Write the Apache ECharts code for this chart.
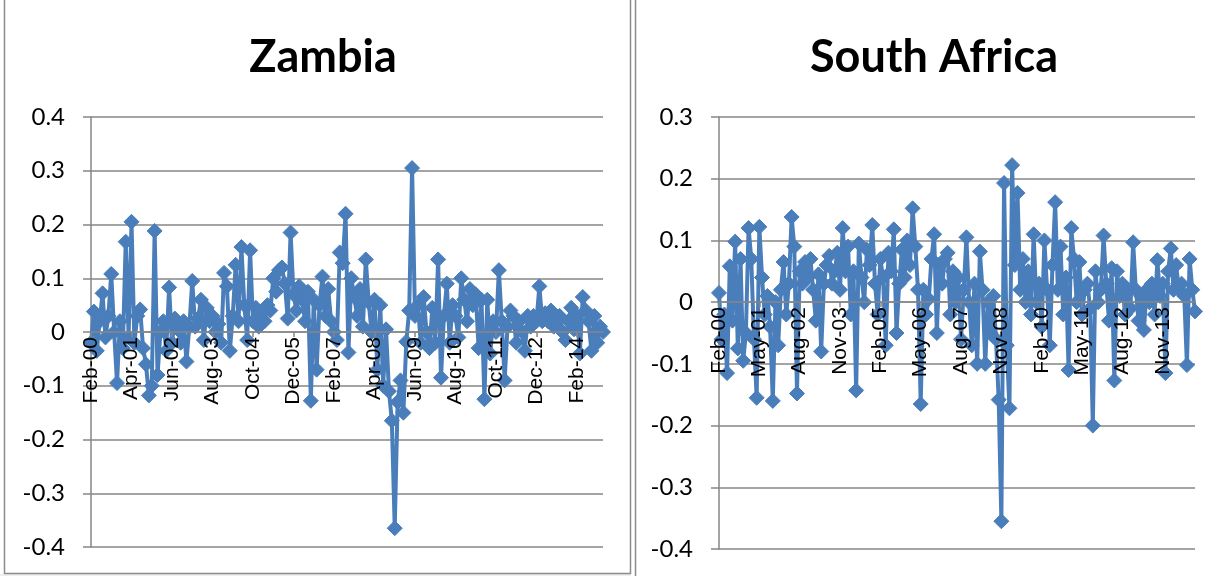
<!DOCTYPE html>
<html>
<head>
<meta charset="utf-8">
<title>Zambia / South Africa</title>
<script src="https://cdn.jsdelivr.net/npm/echarts@6/dist/echarts.min.js"></script>
<style>
  html, body { margin: 0; padding: 0; background: #ffffff; }
  #chart { width: 1218px; height: 576px; }
</style>
</head>
<body>
<div id="chart"></div>
<script>
// Monthly series, Feb-2000 .. Nov-2014 (178 observations each)
const MONTH_NAMES = ['Jan','Feb','Mar','Apr','May','Jun','Jul','Aug','Sep','Oct','Nov','Dec'];
const START_YEAR = 2000;
const START_MONTH = 1; // February
const N_MONTHS = 178;

const zambiaTitle = 'Zambia';
const southAfricaTitle = 'South Africa';

const zambiaValues = [
  -0.02, 0.038, -0.035, 0.02, 0.072, -0.01, 0.03, 0.108, 0.0, -0.095, 0.02, -0.03,
  0.168, -0.01, 0.205, -0.02, 0.03, 0.042, -0.03, -0.06, -0.118, -0.1, 0.188, -0.08,
  0.0, 0.02, -0.035, 0.083, -0.02, 0.025, 0.005, -0.02, 0.02, -0.055, 0.01, 0.095,
  0.01, 0.025, 0.06, -0.015, 0.045, 0.02, 0.03, 0.0, 0.015, -0.02, 0.11, 0.085,
  -0.035, 0.03, 0.125, 0.02, 0.158, 0.05, -0.015, 0.152, 0.02, 0.045, 0.01, 0.035,
  0.02, 0.05, 0.04, 0.1, 0.075, 0.115, 0.12, 0.09, 0.025, 0.185, 0.07, 0.04,
  0.085, 0.06, 0.02, 0.075, -0.128, 0.06, -0.07, 0.05, 0.103, 0.03, 0.08, 0.02,
  0.0, -0.015, 0.148, 0.128, 0.22, -0.038, 0.1, 0.065, 0.03, 0.08, 0.01, 0.135,
  0.055, 0.0, 0.06, -0.07, 0.05, -0.1, 0.005, -0.11, -0.165, -0.365, -0.13, -0.09,
  -0.15, -0.018, 0.04, 0.305, 0.03, 0.05, -0.02, 0.065, 0.0, -0.03, 0.045, -0.02,
  0.135, -0.085, 0.03, 0.09, -0.02, 0.05, 0.03, -0.01, 0.1, 0.06, 0.02, 0.08,
  0.05, 0.07, -0.03, 0.06, -0.125, 0.06, -0.04, 0.02, 0.0, 0.115, 0.02, -0.09,
  0.01, 0.04, 0.03, -0.02, 0.02, 0.0, -0.035, 0.03, 0.01, 0.03, 0.02, 0.085,
  0.02, 0.035, 0.02, 0.04, 0.01, 0.025, 0.03, 0.0, -0.015, 0.02, 0.045, 0.005,
  0.03, -0.04, 0.065, 0.04, 0.02, -0.035, 0.03, -0.02, 0.01, 0.0
];

const southAfricaValues = [
  0.015, -0.06, -0.02, -0.115, 0.058, -0.03, 0.098, -0.075, 0.07, -0.095, -0.05, 0.12,
  0.07, -0.06, -0.155, 0.122, 0.04, -0.02, 0.01, -0.04, -0.16, 0.0, -0.07, 0.02,
  0.065, -0.02, 0.03, 0.138, 0.09, -0.148, 0.05, 0.03, 0.065, 0.04, 0.07, 0.02,
  -0.03, 0.045, -0.08, 0.03, 0.06, 0.075, 0.03, 0.05, 0.08, 0.02, 0.12, 0.05,
  0.09, -0.02, 0.05, -0.143, 0.095, 0.04, 0.0, 0.085, 0.06, 0.125, 0.03, -0.02,
  0.07, 0.04, -0.07, 0.08, 0.05, 0.118, -0.05, 0.03, 0.085, 0.04, 0.1, 0.06,
  0.152, 0.09, 0.02, -0.165, 0.02, -0.02, 0.005, 0.07, 0.11, -0.05, 0.06, 0.03,
  0.07, 0.08, -0.02, 0.05, 0.0, 0.04, -0.06, 0.02, 0.105, 0.0, -0.07, 0.03,
  -0.1, 0.082, 0.02, -0.1, 0.0, -0.05, 0.01, -0.06, -0.158, -0.355, 0.193, -0.07,
  -0.172, 0.222, 0.06, 0.177, 0.02, 0.07, 0.0, 0.05, -0.02, 0.11, 0.0, 0.03,
  -0.04, 0.1, 0.02, -0.07, 0.06, 0.162, 0.02, 0.09, -0.02, 0.04, -0.11, 0.12,
  0.07, 0.0, 0.065, -0.02, 0.02, 0.03, -0.01, -0.2, 0.05, 0.0, 0.02, 0.108,
  0.03, -0.03, 0.055, -0.127, 0.05, 0.01, 0.03, -0.02, 0.02, -0.01, 0.097, 0.02,
  -0.03, 0.01, -0.045, 0.02, 0.0, 0.03, -0.02, 0.068, 0.01, 0.03, -0.115, 0.05,
  0.087, 0.02, 0.06, 0.02, 0.03, 0.01, -0.102, 0.07, 0.02, -0.015
];

// Category labels such as "Feb-00"
const months = [];
for (let k = 0; k < N_MONTHS; k++) {
  const m = (START_MONTH + k) % 12;
  const y = START_YEAR + Math.floor((START_MONTH + k) / 12);
  months.push(MONTH_NAMES[m] + '-' + String(y % 100).padStart(2, '0'));
}

const LINE_COLOR = '#4a7ebb';
const AXIS_COLOR = '#868686';

// Plot rectangles of the two panels
const grids = [
  { left: 91, top: 117, width: 512, height: 430, min: -0.4, max: 0.4, labelStep: 13 },
  { left: 719, top: 117, width: 476, height: 432, min: -0.4, max: 0.3, labelStep: 14 }
];

function yLabel(v) {
  return String(Math.round(v * 10) / 10);
}

// The category axis sits on the zero line of its value axis
function xAxisFor(gi) {
  const g = grids[gi];
  const zeroFromBottom = g.height * (0 - g.min) / (g.max - g.min);
  return {
    type: 'category',
    gridIndex: gi,
    data: months,
    boundaryGap: false,
    position: 'bottom',
    offset: -zeroFromBottom,
    axisLine: { onZero: false, lineStyle: { color: AXIS_COLOR, width: 1.5 } },
    axisTick: { show: true, interval: g.labelStep, length: 5, lineStyle: { color: AXIS_COLOR, width: 1.5 } },
    axisLabel: {
      interval: g.labelStep, rotate: 90, margin: 5,
      fontFamily: 'Liberation Sans', fontSize: 21, color: '#000'
    },
    splitLine: { show: false },
    z: 4
  };
}

function yAxisFor(gi) {
  const g = grids[gi];
  return {
    type: 'value',
    gridIndex: gi,
    min: g.min, max: g.max, interval: 0.1,
    axisLine: { show: true, onZero: false, lineStyle: { color: AXIS_COLOR, width: 1.5 } },
    axisTick: { show: true, length: 8, lineStyle: { color: AXIS_COLOR, width: 1.5 } },
    axisLabel: {
      formatter: yLabel, margin: 26,
      fontFamily: 'Lato', fontSize: 24, color: '#000'
    },
    splitLine: { show: true, lineStyle: { color: AXIS_COLOR, width: 1.5 } }
  };
}

function lineSeries(idx, values) {
  return {
    type: 'line',
    xAxisIndex: idx, yAxisIndex: idx,
    data: values,
    symbol: 'diamond', symbolSize: 15,
    showAllSymbol: true,
    lineStyle: { color: LINE_COLOR, width: 4 },
    itemStyle: { color: LINE_COLOR, borderColor: LINE_COLOR },
    emphasis: { disabled: true },
    z: 3
  };
}

const chart = echarts.init(document.getElementById('chart'), null, { renderer: 'canvas' });

const titleStyle = { fontFamily: 'Lato', fontWeight: 'bold', fontSize: 45, color: '#000' };

chart.setOption({
  animation: false,
  backgroundColor: '#ffffff',
  title: [
    { text: zambiaTitle, left: 318, top: 30, textAlign: 'center', textStyle: titleStyle },
    { text: southAfricaTitle, left: 929, top: 30, textAlign: 'center', textStyle: titleStyle }
  ],
  grid: grids.map(g => ({
    left: g.left, top: g.top, width: g.width, height: g.height,
    containLabel: false, outerBoundsMode: 'none'
  })),
  xAxis: [xAxisFor(0), xAxisFor(1)],
  yAxis: [yAxisFor(0), yAxisFor(1)],
  series: [lineSeries(0, zambiaValues), lineSeries(1, southAfricaValues)],
  graphic: [
    { type: 'rect', shape: { x: 0, y: 574, width: 631, height: 4 }, style: { fill: '#efefef' }, silent: true },
    { type: 'rect', shape: { x: 4.5, y: -3, width: 626, height: 576.5 },
      style: { fill: 'none', stroke: '#8c8c8c', lineWidth: 1.5 }, silent: true },
    { type: 'rect', shape: { x: 635.5, y: -3, width: 590, height: 590 },
      style: { fill: 'none', stroke: '#8c8c8c', lineWidth: 1.5 }, silent: true }
  ]
});
</script>
</body>
</html>
